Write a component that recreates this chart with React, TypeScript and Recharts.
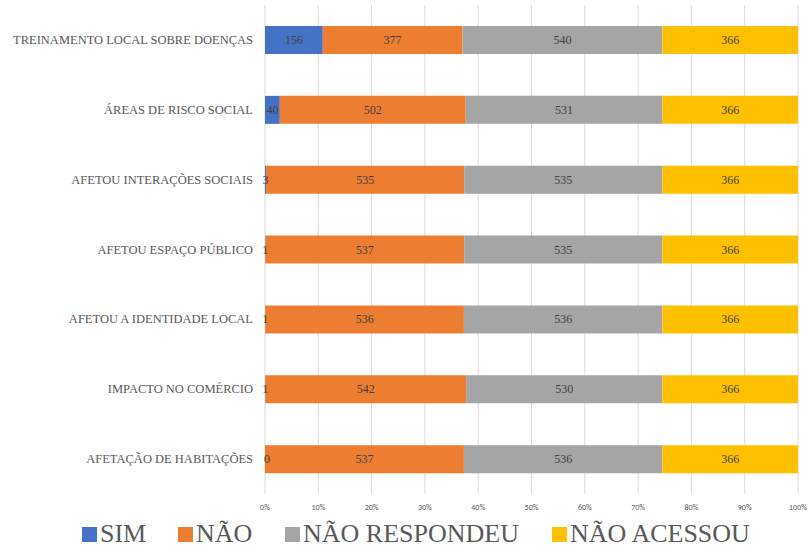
import React from 'react';
import { BarChart, Bar, XAxis, YAxis, CartesianGrid, Legend, LabelList } from 'recharts';

const categories = [
  'TREINAMENTO LOCAL SOBRE DOENÇAS',
  'ÁREAS DE RISCO SOCIAL',
  'AFETOU INTERAÇÕES SOCIAIS',
  'AFETOU ESPAÇO PÚBLICO',
  'AFETOU A IDENTIDADE LOCAL',
  'IMPACTO NO COMÉRCIO',
  'AFETAÇÃO DE HABITAÇÕES',
];
const sim = [156, 40, 3, 1, 1, 1, 0];
const nao = [377, 502, 535, 537, 536, 542, 537];
const naoRespondeu = [540, 531, 535, 535, 536, 530, 536];
const naoAcessou = [366, 366, 366, 366, 366, 366, 366];
const pctTicks = [0, 0.1, 0.2, 0.3, 0.4, 0.5, 0.6, 0.7, 0.8, 0.9, 1];

const SERIES = [
  { key: 'sim', name: 'SIM', color: '#4472C4' },
  { key: 'nao', name: 'NÃO', color: '#ED7D31' },
  { key: 'naoRespondeu', name: 'NÃO RESPONDEU', color: '#A5A5A5' },
  { key: 'naoAcessou', name: 'NÃO ACESSOU', color: '#FFC000' },
];

// legend item left edges
const legendX = [82, 178, 285, 552];

const data = categories.map((name, i) => ({
  name,
  sim: sim[i],
  nao: nao[i],
  naoRespondeu: naoRespondeu[i],
  naoAcessou: naoAcessou[i],
}));

const serif = "'Liberation Serif', 'Times New Roman', serif";

const CategoryTick = (props: any) => {
  const { x, y, payload } = props;
  return (
    <text x={x} y={y} dy={4} textAnchor="end" fontSize={12.5} fill="#595959" fontFamily={serif}>
      {payload.value}
    </text>
  );
};

const labelText = (x: number, y: number, v: any) => (
  <text x={x} y={y} dy={4} textAnchor="middle" fontSize={12} fill="#404040" fontFamily={serif}>
    {v}
  </text>
);

const SegmentLabel = (props: any) => {
  const { x, y, width, height, value, index, zeroKey } = props;
  if (value === undefined || value === null) return null;
  const cy = Number(y) + Number(height) / 2;
  // zero-width segments are not drawn by the library, so their "0" is put at the next segment's start
  const row = data[index];
  const extra = zeroKey && row && row[zeroKey as keyof typeof row] === 0 ? labelText(Number(x) + 2, cy, 0) : null;
  return (
    <g>
      {extra}
      {labelText(Number(x) + Number(width) / 2, cy, value)}
    </g>
  );
};

const LegendContent = () => (
  <svg width={810} height={33} style={{ display: 'block', overflow: 'visible' }}>
    {SERIES.map((s, i) => (
      <g key={s.key}>
        <rect x={legendX[i]} y={13} width={15} height={15} fill={s.color} />
        <text x={legendX[i] + 18} y={27.5} fontSize={26} fill="#595959" fontFamily={serif}>
          {s.name}
        </text>
      </g>
    ))}
  </svg>
);

export default function App() {
  return (
    <div style={{ position: 'absolute', left: 0, top: 0, background: '#fff' }}>
      <BarChart
        width={810}
        height={547}
        data={data}
        layout="vertical"
        stackOffset="expand"
        barSize={28}
        margin={{ top: 5, right: 12, left: 0, bottom: 0 }}
      >
        <CartesianGrid horizontal={false} stroke="#d9d9d9" />
        <XAxis
          type="number"
          domain={[0, 1]}
          ticks={pctTicks}
          tickFormatter={(v: number) => `${Math.round(v * 100)}%`}
          axisLine={false}
          tickLine={false}
          height={20}
          tickMargin={4}
          tick={{ fontSize: 8, fill: '#595959', fontFamily: "Calibri, 'Liberation Sans', sans-serif" }}
        />
        <YAxis
          type="category"
          dataKey="name"
          width={265}
          axisLine={false}
          tickLine={false}
          tickSize={0}
          tickMargin={12}
          tick={<CategoryTick />}
        />
        <Legend verticalAlign="bottom" height={33} content={<LegendContent />} wrapperStyle={{ left: 0, width: 810 }} />
        {SERIES.map((s, i) => (
          <Bar key={s.key} dataKey={s.key} name={s.name} stackId="a" fill={s.color} isAnimationActive={false}>
            <LabelList dataKey={s.key} content={<SegmentLabel zeroKey={i === 1 ? 'sim' : undefined} />} />
          </Bar>
        ))}
      </BarChart>
    </div>
  );
}
